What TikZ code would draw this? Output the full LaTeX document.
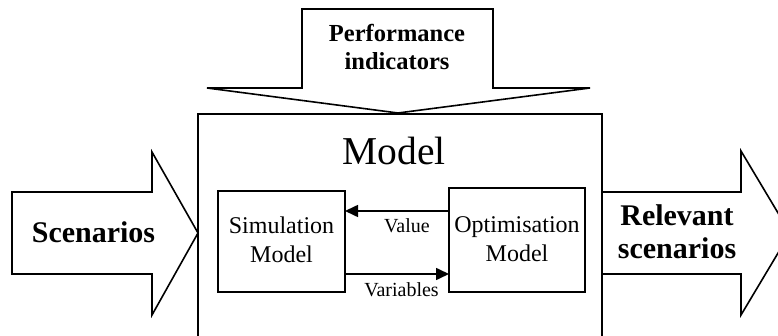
\documentclass[tikz,border=0pt]{standalone}
\usepackage{fontspec}
\setmainfont{Liberation Serif}
\usetikzlibrary{arrows.meta}
\tikzset{
  outline/.style={draw=black, line width=1.6pt, line join=miter},
  bigtxt/.style={font=\fontsize{30}{33}\selectfont\bfseries, align=center, inner sep=0pt},
  smalltxt/.style={font=\fontsize{20}{22}\selectfont, inner sep=0pt},
  boxtxt/.style={font=\fontsize{24}{29}\selectfont, align=center, inner sep=0pt},
  flowarrow/.style={line width=1.6pt, -{Triangle[length=13pt,width=12pt]}},
}
\begin{document}
\begin{tikzpicture}[x=1pt,y=-1pt]
\useasboundingbox (0,0) rectangle (778,336);
\clip (0,0) rectangle (778,336);
% top block arrow
\draw[outline] (302,9) -- (493,9) -- (493,88) -- (590,88) -- (398,113) -- (207,88) -- (302,88) -- cycle;
\node[font=\fontsize{24.5}{28}\selectfont\bfseries, align=center, inner sep=0pt, anchor=base] (perf) at (397,70) {Performance\\indicators};
% model box
\draw[outline] (198,114) rectangle (602,360);
\node[font=\fontsize{39.5}{44}\selectfont, inner sep=0pt, anchor=base] (model) at (394,165) {Model};
% left block arrow
\draw[outline] (12,192) -- (152,192) -- (152,152) -- (198,233) -- (152,315) -- (152,274) -- (12,274) -- cycle;
\node[bigtxt, anchor=base] (scen) at (93.5,243) {Scenarios};
% right block arrow
\draw[outline] (602,192) -- (741,192) -- (741,151) -- (790,233) -- (741,315) -- (741,274) -- (602,274) -- cycle;
\node[bigtxt, anchor=base] (rel) at (677,259) {Relevant\\scenarios};
% inner boxes
\draw[outline] (218,191) rectangle (345,292);
\node[boxtxt, anchor=base] (simtxt) at (281.5,263) {Simulation\\Model};
\draw[outline] (449,188) rectangle (585,292);
\node[boxtxt, anchor=base] (opttxt) at (517,262) {Optimisation\\Model};
\coordinate (valS) at (449,211);
\coordinate (valE) at (345,211);
\coordinate (varS) at (345,274);
\coordinate (varE) at (449,274);
\draw[flowarrow] (valS) -- (valE);
\draw[flowarrow] (varS) -- (varE);
\node[smalltxt, anchor=base] (val) at (407,233) {Value};
\node[smalltxt, anchor=base] (var) at (401.5,296) {Variables};
\end{tikzpicture}
\end{document}
